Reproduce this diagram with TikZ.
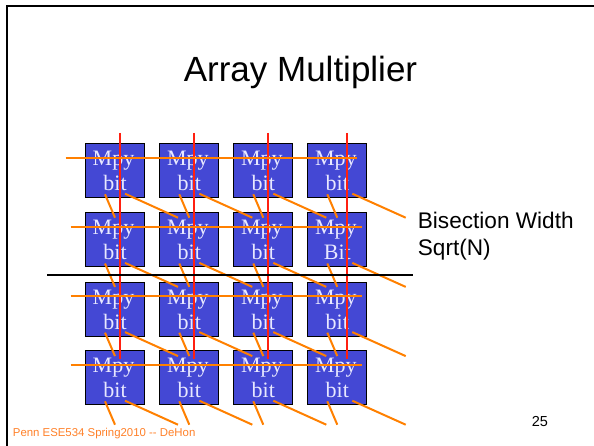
\documentclass[tikz,border=0pt]{standalone}
\usepackage{fontspec}
\setmainfont{Liberation Sans}
\newfontfamily\timesf{Liberation Serif}
\usetikzlibrary{calc}
\definecolor{boxblue}{RGB}{68,72,212}
\definecolor{boxtext}{RGB}{232,232,255}
\definecolor{wireor}{RGB}{255,128,0}
\definecolor{wirered}{RGB}{255,32,16}
\definecolor{footor}{RGB}{255,128,40}
\tikzset{
  mpybox/.style={draw=black, line width=1pt, fill=boxblue, minimum width=59pt, minimum height=54pt, inner sep=0pt, anchor=north west},
  mpytxt/.style={text=boxtext, font=\timesf\fontsize{22}{24}\selectfont, anchor=base, inner sep=0pt},
  orw/.style={draw=wireor, line width=2pt},
  redw/.style={draw=wirered, line width=2pt},
  bisect/.style={draw=black, line width=2.5pt},
}
\begin{document}
\begin{tikzpicture}[x=1pt,y=-1pt]
\useasboundingbox (0,0) rectangle (594,446);
\draw[line width=2pt] (7,446) -- (7,6) -- (594,6);
\node[font=\fontsize{35}{40}\selectfont, anchor=base, inner sep=0pt] (title) at (300.5,81.5) {Array Multiplier};
% boxes
\foreach \c/\L in {1/85,2/159.3,3/233.3,4/307.3}{
  \foreach \r/\T in {1/143.3,2/212.5,3/281.7,4/350.3}{
    \node[mpybox] (b\r\c) at (\L,\T) {};
  }
}
% labels
\foreach \c in {1,...,4}{
  \foreach \r in {1,...,4}{
    \node[mpytxt] (m\r\c) at ($(b\r\c.north)+(-1.5,22.5)$) {Mpy};
    \ifnum\r\c=24
      \node[mpytxt] (t\r\c) at ($(b\r\c.north)+(0,47.5)$) {Bit};
    \else
      \node[mpytxt] (t\r\c) at ($(b\r\c.north)+(0,47.5)$) {bit};
    \fi
  }
}
% red verticals
\foreach \c/\dx in {1/35,2/35,3/35,4/39.4}{
  \coordinate (rt\c) at ($(b1\c.north west)+(\dx,-10.3)$);
  \coordinate (rb\c) at ($(b4\c.north west)+(\dx,9)$);
  \draw[redw] (rt\c) -- (rb\c);
}
% orange horizontals
\coordinate (hl1) at (65.7,158.3);
\coordinate (hr1) at (356.7,158.3);
\draw[orw] (hl1) -- (hr1);
\foreach \r in {2,3,4}{
  \coordinate (hl\r) at ($(b\r1.north west)+(-14.3,14.3)$);
  \coordinate (hr\r) at ($(b\r4.north west)+(54.4,14.3)$);
  \draw[orw] (hl\r) -- (hr\r);
}
% orange diagonals
\foreach \c/\da/\db in {1/40/93,2/40/93,3/40/93,4/45/98.4}{
  \foreach \r in {1,...,4}{
    \draw[orw] ($(b\r\c.south west)+(20,-4)$) -- ($(b\r\c.south west)+(30,19.4)$);
    \draw[orw] ($(b\r\c.south west)+(\da,-4.6)$) -- ($(b\r\c.south west)+(\db,19.4)$);
  }
}
% bisection line
\coordinate (bl) at (47,275);
\coordinate (br) at (413,275);
\draw[bisect] (bl) -- (br);
\node[font=\fontsize{22.6}{26.7}\selectfont, anchor=base west, inner sep=0pt] (bw1) at (417.7,229) {Bisection Width};
\node[font=\fontsize{22.6}{26.7}\selectfont, anchor=base west, inner sep=0pt] (bw2) at (417.7,255.7) {Sqrt(N)};
\node[font=\fontsize{11.4}{13}\selectfont, text=footor, anchor=base west, inner sep=0pt] (foot) at (12.7,436) {Penn ESE534 Spring2010 -{}- DeHon};
\node[font=\fontsize{14.5}{17}\selectfont, anchor=base west, inner sep=0pt] (pg) at (531.7,426.7) {25};
\end{tikzpicture}
\end{document}
